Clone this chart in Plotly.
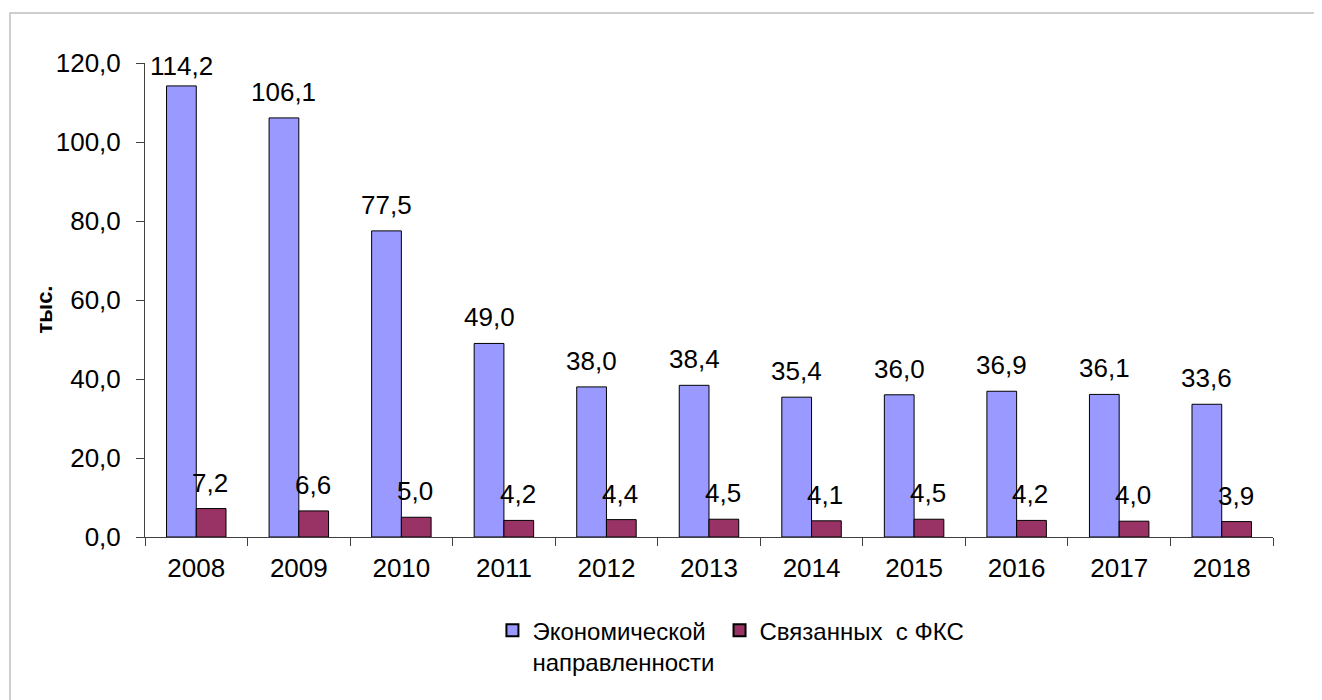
import plotly.graph_objects as go

years = ["2008", "2009", "2010", "2011", "2012", "2013", "2014", "2015", "2016", "2017", "2018"]
econ = [114.2, 106.1, 77.5, 49.0, 38.0, 38.4, 35.4, 36.0, 36.9, 36.1, 33.6]
fks = [7.2, 6.6, 5.0, 4.2, 4.4, 4.5, 4.1, 4.5, 4.2, 4.0, 3.9]
name_econ = "Экономической<br>направленности"
name_fks = "Связанных  с ФКС"
y_title = "тыс."

def fmt(v):
    return f"{v:.1f}".replace(".", ",")

FONT = "Liberation Sans, Arial, sans-serif"
FS = 26
HALF = 29.7 / 2

fig = go.Figure()
fig.add_trace(go.Bar(
    x=years, y=econ, name=name_econ,
    marker=dict(color="#9999FF", line=dict(color="#000000", width=1)),
))
fig.add_trace(go.Bar(
    x=years, y=fks, name=name_fks,
    marker=dict(color="#993366", line=dict(color="#000000", width=1)),
))

for series, dx in ((econ, -HALF), (fks, HALF - 1)):
    for i, v in enumerate(series):
        fig.add_annotation(
            x=i, y=v, xref="x", yref="y", text=fmt(v), showarrow=False,
            xshift=dx, yshift=9 if v < 110 else 3, yanchor="bottom",
            font=dict(size=FS, color="#000000", family=FONT),
        )

fig.add_annotation(
    x=-0.0887, y=0.48, xref="paper", yref="paper", text=f"<b>{y_title}</b>",
    showarrow=False, textangle=-90, xanchor="center", yanchor="middle",
    font=dict(size=22, color="#000000", family=FONT),
)

fig.add_shape(type="rect", xref="paper", yref="paper",
              x0=-0.1197, x1=1.2, y0=-0.5, y1=1.1055,
              line=dict(color="#BFBFBF", width=1.5), fillcolor="rgba(0,0,0,0)", layer="below")

fig.update_layout(
    width=1322, height=700,
    margin=dict(l=137, r=57, t=55, b=171),
    paper_bgcolor="white", plot_bgcolor="white",
    barmode="group", bargap=0.42, bargroupgap=0,
    separators=", ",
    font=dict(family=FONT, size=FS, color="#000000"),
    showlegend=True,
    legend=dict(orientation="h", x=0.308, xanchor="left", y=-0.15, yanchor="top",
                font=dict(size=24, family=FONT), itemsizing="constant", valign="top",
                traceorder="normal", itemwidth=30, tracegroupgap=0),
    xaxis=dict(
        type="category", showline=True, linecolor="#404040", linewidth=1,
        ticks="outside", ticklen=8, tickcolor="#404040", tickson="boundaries",
        tickfont=dict(size=FS), showgrid=False, range=[-0.5, 10.5],
        ticklabelstandoff=8,
    ),
    yaxis=dict(
        range=[0, 120], dtick=20, tickformat=".1f",
        showline=True, linecolor="#404040", linewidth=1,
        ticks="outside", ticklen=8, tickcolor="#404040",
        showgrid=False, zeroline=False, tickfont=dict(size=FS),
        ticklabelstandoff=10,
    ),
)

fig.write_html("out.html")
